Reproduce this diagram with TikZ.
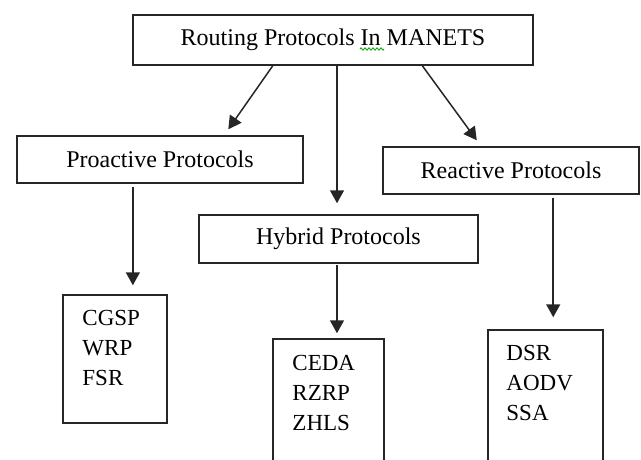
\documentclass[tikz,border=0pt]{standalone}
\usepackage{fontspec}
\setmainfont{Liberation Serif}
\usetikzlibrary{arrows.meta,calc,decorations.pathmorphing}
\begin{document}
\begin{tikzpicture}[x=1pt,y=-1pt,
  box/.style={draw=black!85, line width=1.5pt, rectangle, inner sep=0pt, font=\fontsize{24}{28}\selectfont},
  listbox/.style={draw=black!85, line width=1.5pt, rectangle, inner sep=0pt},
  listtext/.style={inner sep=0pt, anchor=north west, align=left, font=\fontsize{23}{30}\selectfont},
  arr/.style={draw=black!85, line width=1.5pt, -{Triangle[length=13pt,width=14pt]}},
]
\useasboundingbox (0,0) rectangle (641,459);
\clip (0,0) rectangle (641,459);

\node[box, minimum width=400pt, minimum height=50pt] (top) at (333,40) {Routing Protocols In MANETS};
\node[box, minimum width=286pt, minimum height=47pt] (pro) at (160,159.5) {Proactive Protocols};
\node[box, minimum width=279pt, minimum height=48pt] (hyb) at (338.5,239) {Hybrid Protocols};
\node[box, minimum width=256pt, minimum height=47pt] (rea) at (511,170.5) {Reactive Protocols};

\node[listbox, minimum width=104pt, minimum height=128pt] (l1) at (115,359) {};
\node[listbox, minimum width=111pt, minimum height=141pt] (l2) at (328.5,409.5) {};
\node[listbox, minimum width=115pt, minimum height=150pt] (l3) at (545.5,405) {};

\node[listtext] (t1) at ($(l1.north west)+(20,16)$) {CGSP\\WRP\\FSR};
\node[listtext] (t2) at ($(l2.north west)+(20,16.5)$) {CEDA\\RZRP\\ZHLS};
\node[listtext] (t3) at ($(l3.north west)+(19,15.5)$) {DSR\\AODV\\SSA};

% spell-check squiggle under "In"
\draw[green!60!black, line width=0.8pt, decorate, decoration={zigzag, segment length=4pt, amplitude=1.2pt}] (360,49) -- (384,49);

% arrows from the top box
\draw[arr, shorten >=7.3pt] ($(top.south west)!0.35!(top.south east)$) -- ($(pro.north west)!0.723!(pro.north east)$);
\coordinate (c) at ($(top.south west)!0.51!(top.south east)$);
\draw[arr, shorten >=11pt] (c) -- (c |- hyb.north);
\draw[arr, shorten >=7.4pt] ($(top.south west)!0.7225!(top.south east)$) -- ($(rea.north west)!0.384!(rea.north east)$);

% arrows to the lists
\coordinate (ps) at ($(pro.south west)!0.4056!(pro.south east)$);
\draw[arr, shorten <=3pt, shorten >=9pt] (ps) -- (ps |- l1.north);
\coordinate (hs) at ($(hyb.south west)!0.4946!(hyb.south east)$);
\draw[arr, shorten <=1pt, shorten >=5pt] (hs) -- (hs |- l2.north);
\coordinate (rs) at ($(rea.south west)!0.664!(rea.south east)$);
\draw[arr, shorten <=3pt, shorten >=12pt] (rs) -- (rs |- l3.north);
\end{tikzpicture}
\end{document}
